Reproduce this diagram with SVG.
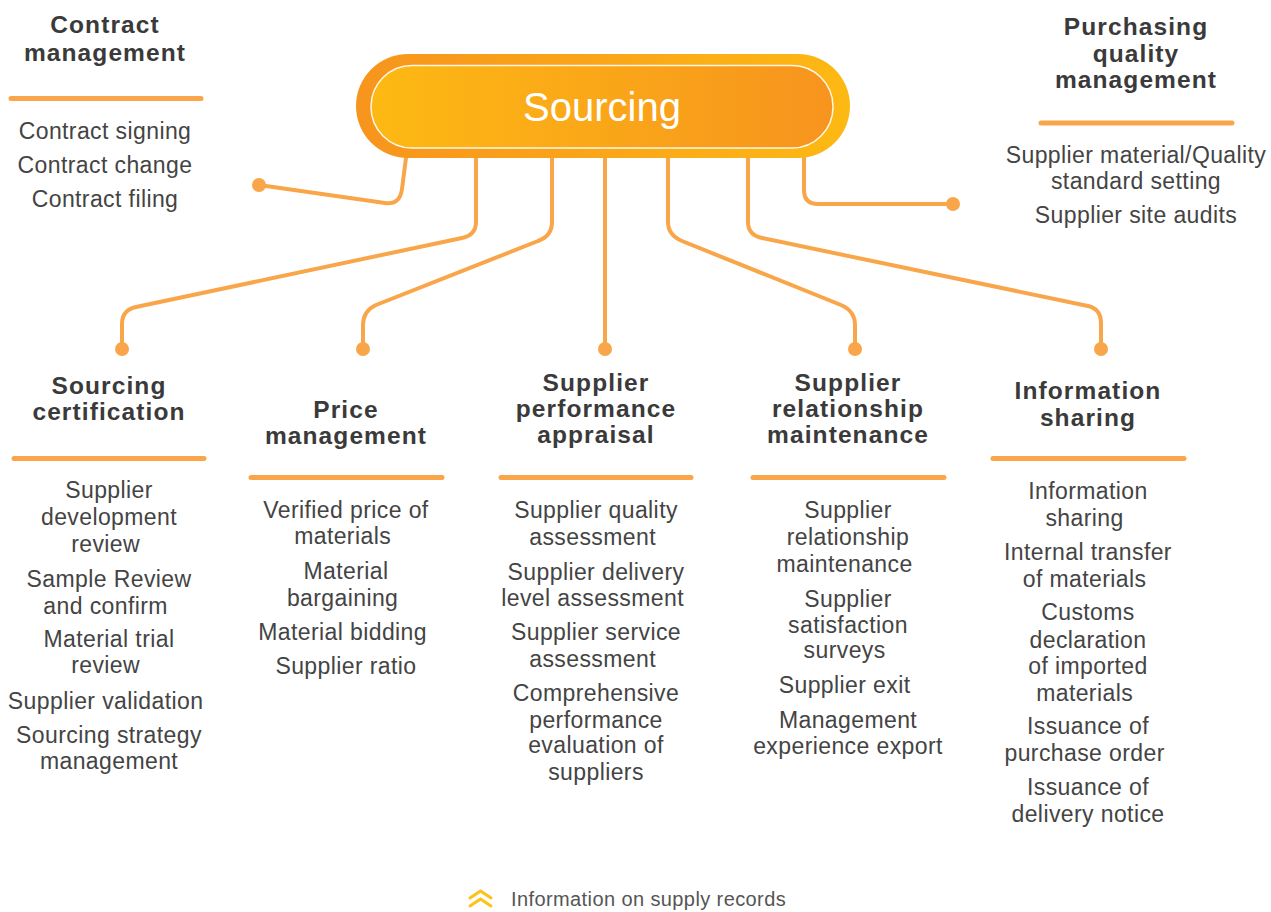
<svg xmlns="http://www.w3.org/2000/svg" width="1271" height="912" viewBox="0 0 1271 912">
<defs>
<linearGradient id="gOuter" x1="0" y1="0" x2="1" y2="0">
<stop offset="0" stop-color="#f7941d"/>
<stop offset="1" stop-color="#fdb913"/>
</linearGradient>
<linearGradient id="gInner" x1="0" y1="0" x2="1" y2="0">
<stop offset="0" stop-color="#fdb913"/>
<stop offset="1" stop-color="#f7941e"/>
</linearGradient>
<style>
.conn{fill:none;stroke:#f9a64a;stroke-width:4;stroke-linecap:round;stroke-linejoin:round}
.dot{fill:#f9a64a}
.rule{stroke:#f9a64a;stroke-width:5;stroke-linecap:round}
.head{font-family:"Liberation Sans",Arial,sans-serif;font-size:24.5px;font-weight:bold;fill:#3a3a3a;text-anchor:middle;letter-spacing:1.1px}
.item{font-family:"Liberation Sans",Arial,sans-serif;font-size:23px;fill:#444;text-anchor:middle;letter-spacing:0.4px}
.legend{font-family:"Liberation Sans",Arial,sans-serif;font-size:20px;fill:#555;letter-spacing:0.4px}
</style>
</defs>
<rect width="1271" height="912" fill="#fff"/>

<g id="connectors">
<path class="conn" d="M407,150 L402,189 Q400,205 385,203 L259,185"/>
<path class="conn" d="M476,150 L476,222 Q476,235 462,238 L136,307 Q122,310 122,324 L122,349"/>
<path class="conn" d="M552,150 L552,222 Q552,236 538,241 L376,305 Q363,311 363,325 L363,349"/>
<path class="conn" d="M605,150 L605,349"/>
<path class="conn" d="M668,150 L668,222 Q668,235 682,241 L841,305 Q855,311 855,325 L855,349"/>
<path class="conn" d="M748,150 L748,222 Q748,235 762,238 L1088,306 Q1101,309 1101,323 L1101,349"/>
<path class="conn" d="M804,150 L804,190 Q804,204 818,204 L953,204"/>
<circle class="dot" cx="259" cy="185" r="7"/>
<circle class="dot" cx="122" cy="349" r="7"/>
<circle class="dot" cx="363" cy="349" r="7"/>
<circle class="dot" cx="605" cy="349" r="7"/>
<circle class="dot" cx="855" cy="349" r="7"/>
<circle class="dot" cx="1101" cy="349" r="7"/>
<circle class="dot" cx="953" cy="204" r="7"/>
</g>

<g id="sourcing">
<rect x="356" y="54" width="494" height="104" rx="52" fill="url(#gOuter)"/>
<rect x="371" y="65.5" width="462" height="82.5" rx="41" fill="url(#gInner)" stroke="#fff" stroke-width="1.5" stroke-opacity="0.9"/>
<text x="602" y="121" font-family="'Liberation Sans',Arial,sans-serif" font-size="40" fill="#fff" text-anchor="middle">Sourcing</text>
</g>

<g id="contract-management">
<text class="head"><tspan x="105" y="33">Contract</tspan><tspan x="105" y="61">management</tspan></text>
<line class="rule" x1="11" y1="98.5" x2="201" y2="98.5"/>
<text class="item"><tspan x="105" y="139">Contract signing</tspan><tspan x="105" y="173">Contract change</tspan><tspan x="105" y="207">Contract filing</tspan></text>
</g>

<g id="purchasing-quality-management">
<text class="head"><tspan x="1136" y="35">Purchasing</tspan><tspan x="1136" y="62">quality</tspan><tspan x="1136" y="88">management</tspan></text>
<line class="rule" x1="1041" y1="123" x2="1232" y2="123"/>
<text class="item"><tspan x="1136" y="163">Supplier material/Quality</tspan><tspan x="1136" y="189">standard setting</tspan><tspan x="1136" y="223">Supplier site audits</tspan></text>
</g>

<g id="sourcing-certification">
<text class="head"><tspan x="109" y="394">Sourcing</tspan><tspan x="109" y="420">certification</tspan></text>
<line class="rule" x1="14" y1="458.5" x2="204" y2="458.5"/>
<text class="item">
<tspan x="109" y="498">Supplier</tspan><tspan x="109" y="525">development</tspan><tspan x="109" y="552">review</tspan>
<tspan x="109" y="587">Sample Review</tspan><tspan x="109" y="614">and confirm</tspan>
<tspan x="109" y="647">Material trial</tspan><tspan x="109" y="673">review</tspan>
<tspan x="109" y="709">Supplier validation</tspan>
<tspan x="109" y="743">Sourcing strategy</tspan><tspan x="109" y="769">management</tspan>
</text>
</g>

<g id="price-management">
<text class="head"><tspan x="346" y="418">Price</tspan><tspan x="346" y="444">management</tspan></text>
<line class="rule" x1="251" y1="477.5" x2="442" y2="477.5"/>
<text class="item">
<tspan x="346" y="518">Verified price of</tspan><tspan x="346" y="544">materials</tspan>
<tspan x="346" y="579">Material</tspan><tspan x="346" y="606">bargaining</tspan>
<tspan x="346" y="640">Material bidding</tspan>
<tspan x="346" y="674">Supplier ratio</tspan>
</text>
</g>

<g id="supplier-performance-appraisal">
<text class="head"><tspan x="596" y="391">Supplier</tspan><tspan x="596" y="417">performance</tspan><tspan x="596" y="443">appraisal</tspan></text>
<line class="rule" x1="501" y1="477.5" x2="691" y2="477.5"/>
<text class="item">
<tspan x="596" y="518">Supplier quality</tspan><tspan x="596" y="545">assessment</tspan>
<tspan x="596" y="580">Supplier delivery</tspan><tspan x="596" y="606">level assessment</tspan>
<tspan x="596" y="640">Supplier service</tspan><tspan x="596" y="667">assessment</tspan>
<tspan x="596" y="701">Comprehensive</tspan><tspan x="596" y="728">performance</tspan><tspan x="596" y="753">evaluation of</tspan><tspan x="596" y="780">suppliers</tspan>
</text>
</g>

<g id="supplier-relationship-maintenance">
<text class="head"><tspan x="848" y="391">Supplier</tspan><tspan x="848" y="417">relationship</tspan><tspan x="848" y="443">maintenance</tspan></text>
<line class="rule" x1="753" y1="477.5" x2="944" y2="477.5"/>
<text class="item">
<tspan x="848" y="518">Supplier</tspan><tspan x="848" y="545">relationship</tspan><tspan x="848" y="572">maintenance</tspan>
<tspan x="848" y="607">Supplier</tspan><tspan x="848" y="633">satisfaction</tspan><tspan x="848" y="658">surveys</tspan>
<tspan x="848" y="693">Supplier exit</tspan>
<tspan x="848" y="728">Management</tspan><tspan x="848" y="754">experience export</tspan>
</text>
</g>

<g id="information-sharing">
<text class="head"><tspan x="1088" y="399">Information</tspan><tspan x="1088" y="426">sharing</tspan></text>
<line class="rule" x1="993" y1="458.5" x2="1184" y2="458.5"/>
<text class="item">
<tspan x="1088" y="499">Information</tspan><tspan x="1088" y="526">sharing</tspan>
<tspan x="1088" y="560">Internal transfer</tspan><tspan x="1088" y="587">of materials</tspan>
<tspan x="1088" y="620">Customs</tspan><tspan x="1088" y="648">declaration</tspan><tspan x="1088" y="674">of imported</tspan><tspan x="1088" y="701">materials</tspan>
<tspan x="1088" y="734">Issuance of</tspan><tspan x="1088" y="761">purchase order</tspan>
<tspan x="1088" y="795">Issuance of</tspan><tspan x="1088" y="822">delivery notice</tspan>
</text>
</g>

<g id="legend">
<path d="M470,898 L480.5,891 L491,898 M470,906 L480.5,899 L491,906" fill="none" stroke="#fdc214" stroke-width="3" stroke-linecap="round" stroke-linejoin="round"/>
<text class="legend" x="511" y="906">Information on supply records</text>
</g>
</svg>
